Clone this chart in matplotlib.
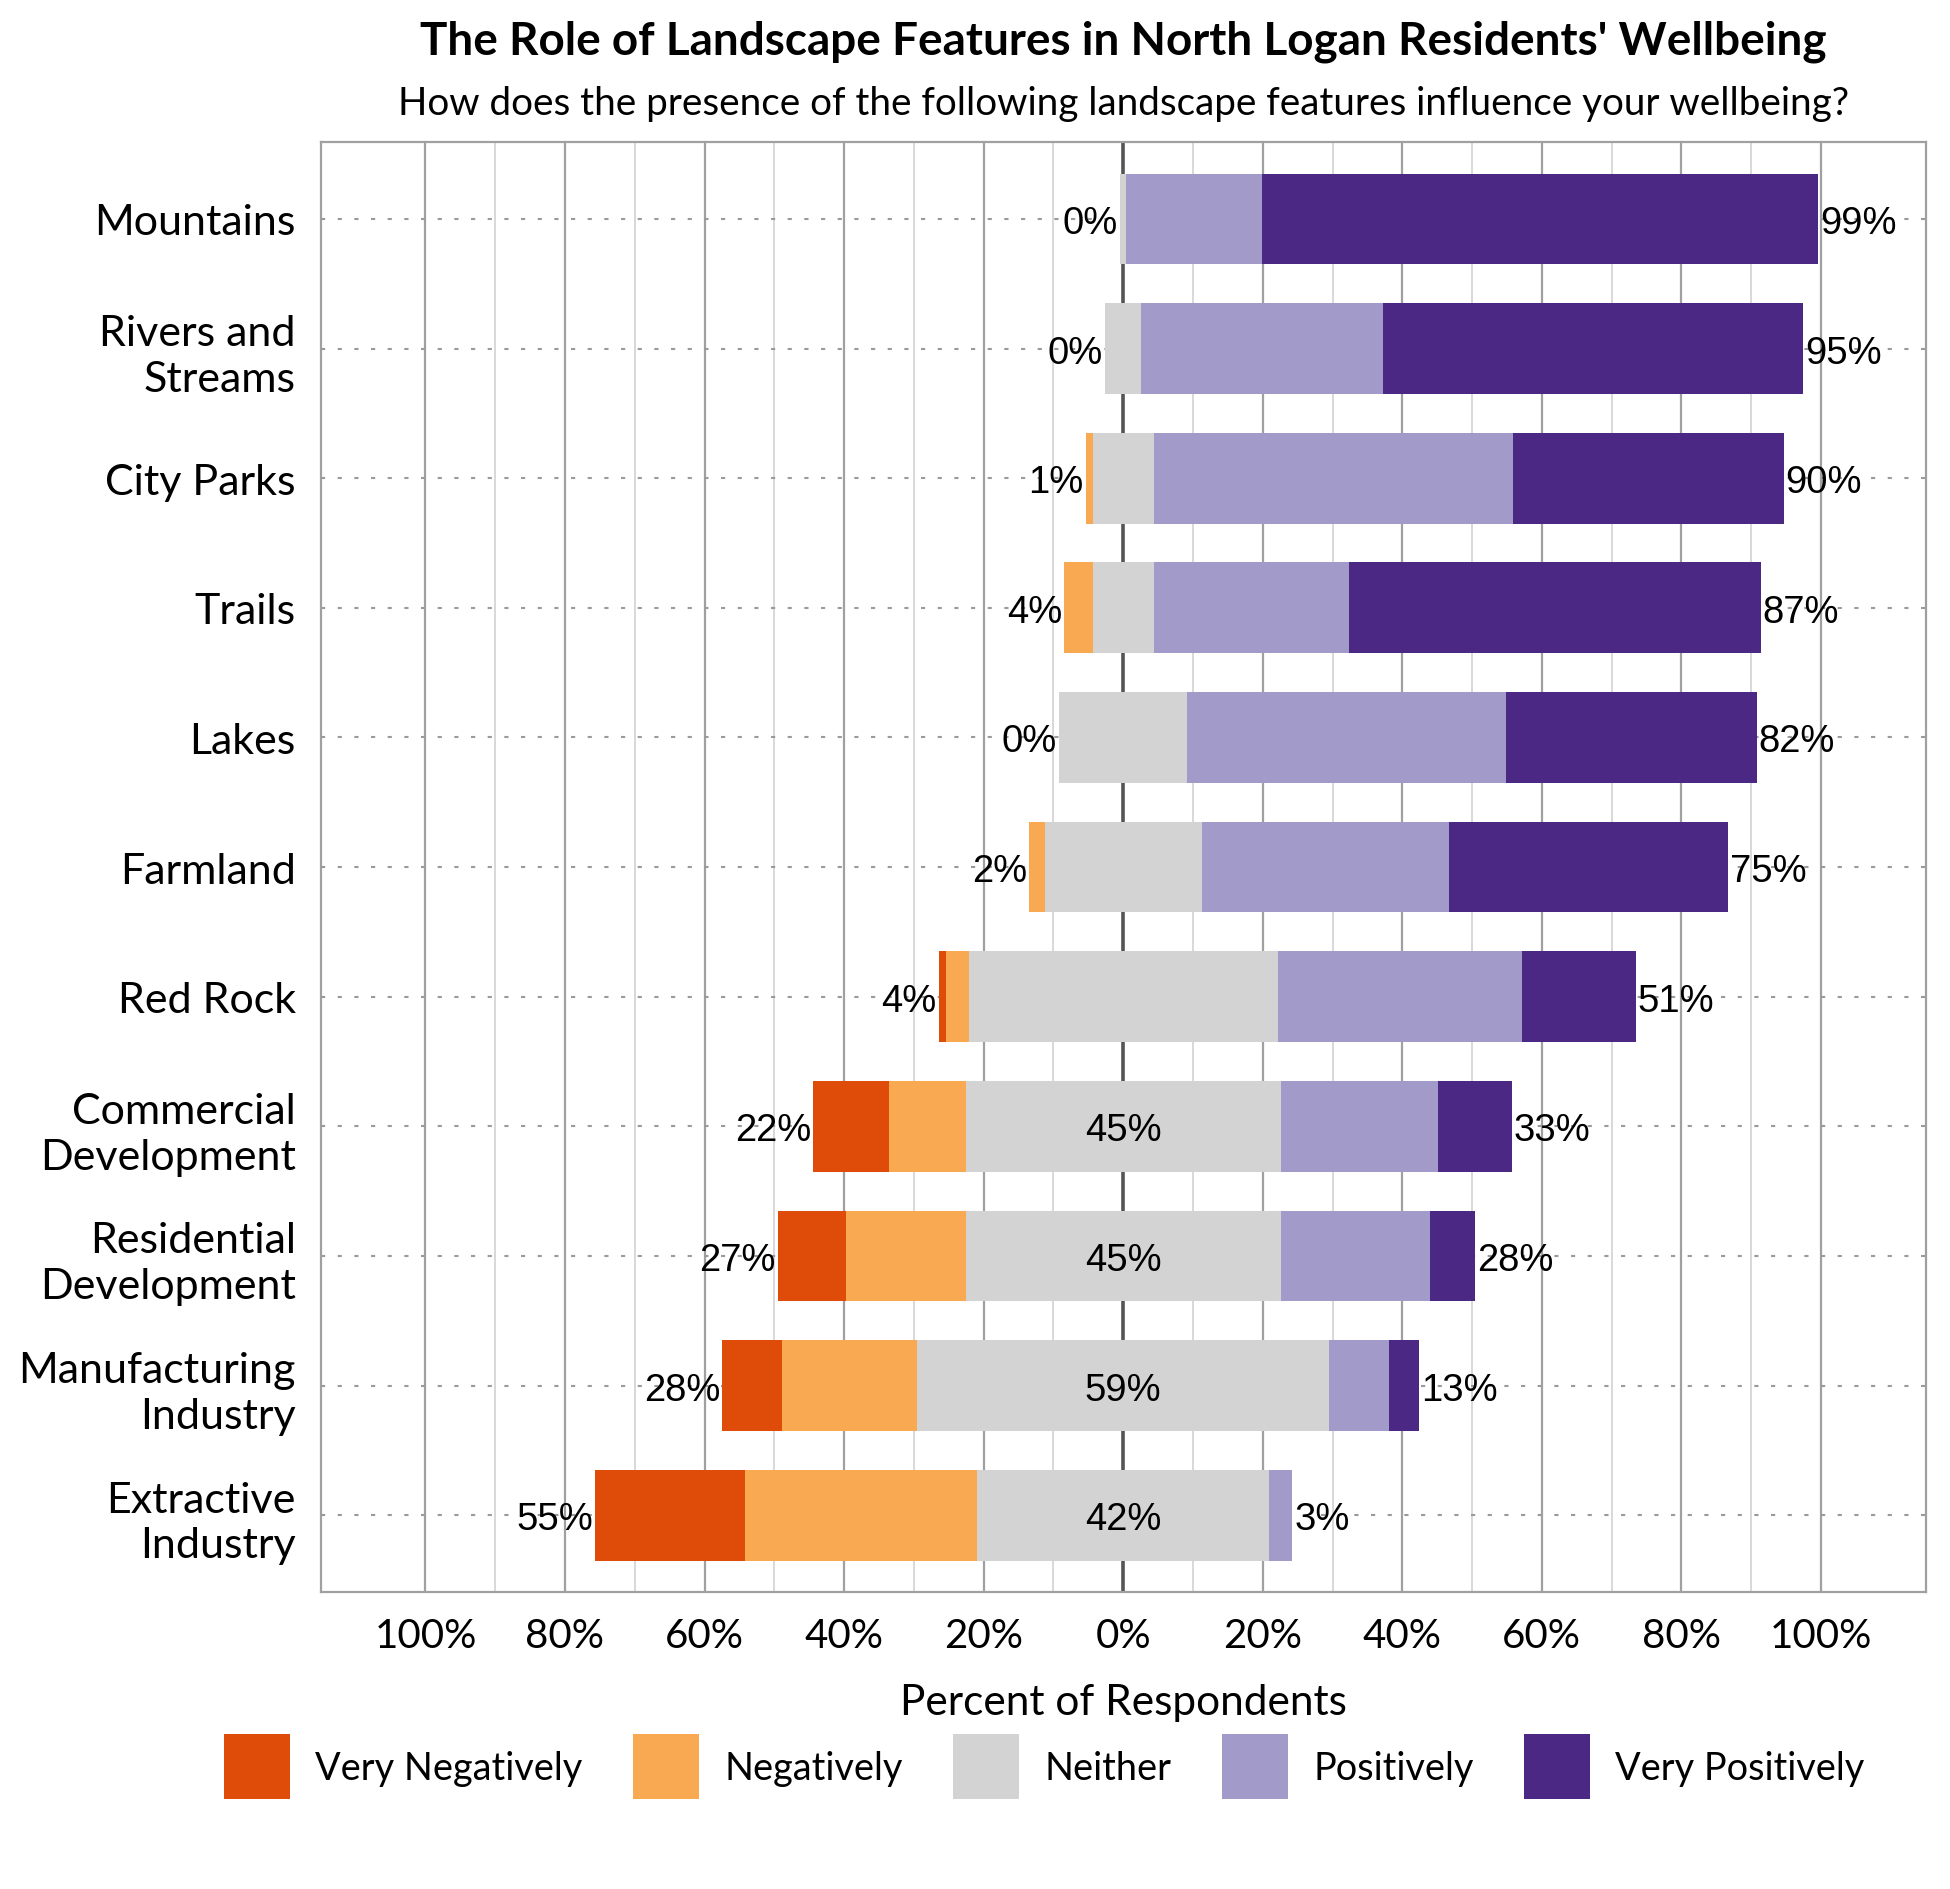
import matplotlib
matplotlib.use('Agg')
import matplotlib.pyplot as plt
import numpy as np

# survey shares (percent of respondents), top row first
categories = ['Mountains', 'Rivers and\nStreams', 'City Parks', 'Trails', 'Lakes', 'Farmland',
              'Red Rock', 'Commercial\nDevelopment', 'Residential\nDevelopment',
              'Manufacturing\nIndustry', 'Extractive\nIndustry']
very_neg = [0, 0, 0, 0, 0, 0, 1.1, 10.8, 9.8, 8.6, 21.4]
neg = [0, 0, 1.0, 4.1, 0, 2.2, 3.2, 11.0, 17.1, 19.3, 33.3]
neither = [0.9, 5.2, 8.7, 8.7, 18.4, 22.5, 44.3, 45.2, 45.2, 59.1, 41.9]
pos = [19.5, 34.6, 51.5, 28.0, 45.6, 35.5, 35.0, 22.5, 21.3, 8.6, 3.3]
very_pos = [79.6, 60.2, 38.8, 59.0, 36.0, 39.9, 16.3, 10.6, 6.5, 4.3, 0]
show_neither_label = [False] * 7 + [True] * 4

levels = ['Very Negatively', 'Negatively', 'Neither', 'Positively', 'Very Positively']
colors = ['#DF4B09', '#F9A952', '#D3D3D3', '#A29AC9', '#4B2884']

ticks = [-100, -80, -60, -40, -20, 0, 20, 40, 60, 80, 100]
tick_labels = ['100%', '80%', '60%', '40%', '20%', '0%', '20%', '40%', '60%', '80%', '100%']

label_font = 'Lato'
value_font = 'Liberation Sans'

fig = plt.figure(figsize=(19.5, 18.9), dpi=100)
ax = fig.add_axes([0.1645, 0.1573, 0.823, 0.7668])

y = np.arange(len(categories))
vn = np.array(very_neg)
ng = np.array(neg)
ne = np.array(neither)
ps = np.array(pos)
vp = np.array(very_pos)

# stacked diverging bars, neutral centred on zero
starts = [-ne / 2 - ng - vn, -ne / 2 - ng, -ne / 2, ne / 2, ne / 2 + ps]
widths = [vn, ng, ne, ps, vp]
for left, w, c, lab in zip(starts, widths, colors, levels):
    ax.barh(y, w, left=left, height=0.7, color=c, label=lab, zorder=3)

# grid
for t in range(-100, 101, 10):
    if t == 0:
        ax.axvline(0, color='#555555', lw=2.6, zorder=1)
    elif t % 20 == 0:
        ax.axvline(t, color='#A0A0A0', lw=1.6, zorder=0)
    else:
        ax.axvline(t, color='#D2D2D2', lw=1.2, zorder=0)
for yy in y:
    ax.axhline(yy, color='#9A9A9A', lw=1.5, ls=(0, (2, 6)), zorder=0.5)

# value labels
neg_end = -ne / 2 - ng - vn
pos_end = ne / 2 + ps + vp
for i in y:
    ax.annotate(f'{round(vn[i] + ng[i]):.0f}%', (neg_end[i], i), xytext=(-1.5, 0),
                textcoords='offset points', ha='right', va='center_baseline',
                fontsize=27.5, family=value_font, zorder=4)
    ax.annotate(f'{round(ps[i] + vp[i]):.0f}%', (pos_end[i], i), xytext=(1.5, 0),
                textcoords='offset points', ha='left', va='center_baseline',
                fontsize=27.5, family=value_font, zorder=4)
    if show_neither_label[i]:
        ax.text(0, i, f'{round(ne[i]):.0f}%', ha='center', va='center_baseline',
                fontsize=27.5, family=value_font, zorder=4)

ax.set_xlim(-115, 115)
ax.set_ylim(len(categories) - 0.41, -0.59)
ax.set_xticks(ticks)
ax.set_xticklabels(tick_labels, fontsize=29, family=label_font)
ax.set_yticks(y)
ax.set_yticklabels(categories, fontsize=31, family=label_font, linespacing=1.25)
ax.tick_params(axis='both', length=0)
ax.tick_params(axis='x', pad=18)
ax.tick_params(axis='y', pad=18)
for s in ax.spines.values():
    s.set_color('#A0A0A0')
    s.set_linewidth(1.6)

ax.set_xlabel('Percent of Respondents', fontsize=30.5, family=label_font, labelpad=21)

fig.text(0.576, 0.978, "The Role of Landscape Features in North Logan Residents' Wellbeing",
         ha='center', va='center', fontsize=33, fontweight='bold', family=label_font)
fig.text(0.576, 0.945, 'How does the presence of the following landscape features influence your wellbeing?',
         ha='center', va='center', fontsize=27.8, family=label_font)

leg = fig.legend(loc='center', bbox_to_anchor=(0.5355, 0.0646), ncol=5, frameon=False,
                 prop={'family': label_font, 'size': 27.3}, handlelength=1.74,
                 handleheight=2.26, handletextpad=0.67, columnspacing=1.33)

fig.savefig('out.png', dpi=100)
